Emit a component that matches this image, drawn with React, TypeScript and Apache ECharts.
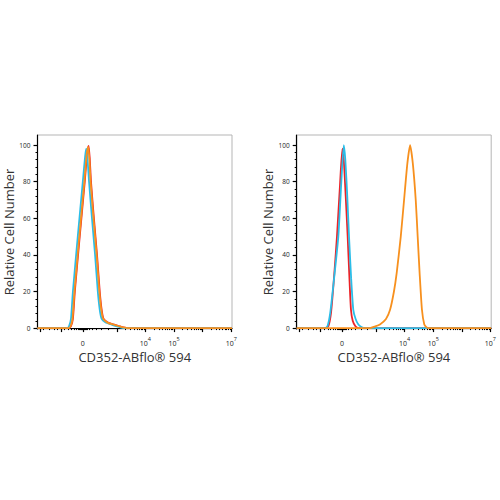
import React, { useEffect, useRef } from "react";
import * as echarts from "echarts";

// Display scale (biexponential channel units 0..1000)
const X_MIN = 0;
const X_MAX = 1000;
const Y_MIN = -0.5;
const Y_MAX = 105.5;

const xLabelPositions = [233, 555, 702, 996];
const xLabelTexts = ["0", "10{s|4}", "10{s|5}", "10{s|7}"];
const xMajorTicks = [13, 121, 233, 408, 555, 702, 849, 996];
const xMinorTicks = [
  30, 60, 85, 100, 140, 160, 175, 190, 200, 208, 214, 219, 223, 226, 229, 231,
  235, 237, 240, 244, 249, 256, 266, 280, 300, 330, 365,
  452, 478, 496, 511, 522, 532, 541, 548,
  599, 625, 643, 658, 669, 679, 688, 695,
  746, 772, 790, 805, 816, 826, 835, 842,
  893, 919, 937, 952, 963, 973, 982, 989,
];
const yLabelValues = [0, 20, 40, 60, 80, 100];
const yMinorTicks = [
  4, 8, 12, 16, 24, 28, 32, 36, 44, 48, 52, 56, 64, 68, 72, 76, 84, 88, 92, 96,
];

const xAxisTitle = "CD352-ABflo® 594";
const yAxisTitle = "Relative Cell Number";

// Left panel histograms
const leftRed: [number, number][] = [
  [0, 0], [162, 0], [172, 1], [182, 5], [192, 20], [217, 50], [243, 80],
  [255, 95], [263, 99.5], [269, 92], [275, 80], [290, 60], [306, 40],
  [320, 20], [330, 10], [340, 5], [362, 3], [391, 2], [422, 1], [442, 0.4],
  [468, 0], [1000, 0],
];
const leftCyan: [number, number][] = [
  [0, 0], [152, 0], [162, 1], [172, 5], [182, 20], [207, 50], [233, 80],
  [245, 94], [251, 98], [258, 91], [265, 80], [280, 60], [296, 40], [310, 20],
  [320, 10], [330, 5], [350, 3], [378, 2], [405, 1], [428, 0.3], [450, 0],
  [1000, 0],
];
const leftOrange: [number, number][] = [
  [0, 0], [160, 0], [170, 1], [180, 5], [190, 20], [215, 50], [241, 80],
  [253, 95], [261, 99], [267, 92], [273, 80], [288, 60], [304, 40], [318, 20],
  [328, 10], [338, 5], [360, 3], [389, 2], [420, 1], [440, 0.4], [466, 0],
  [1000, 0],
];

// Right panel histograms
const rightRed: [number, number][] = [
  [0, 0], [150, 0], [163, 1], [176, 8], [190, 25], [207, 50], [222, 77],
  [235, 98], [242, 92], [252, 72], [262, 50], [272, 25], [279, 10], [288, 4],
  [302, 1], [317, 0], [1000, 0],
];
const rightCyan: [number, number][] = [
  [0, 0], [145, 0], [158, 1], [172, 8], [190, 25], [214, 50], [229, 79],
  [242, 100], [250, 92], [260, 72], [269, 50], [280, 27], [291, 10], [303, 5],
  [317, 2], [335, 0.5], [351, 0], [1000, 0],
];
const rightOrange: [number, number][] = [
  [0, 0], [377, 0], [400, 0.8], [428, 2], [459, 5], [480, 10], [500, 20],
  [514, 30], [535, 50], [552, 70], [569, 90], [583, 100], [597, 90],
  [612, 70], [622, 50], [632, 30], [644, 10], [656, 2], [668, 0.4], [677, 0],
  [1000, 0],
];

const RED = "#ec2227";
const CYAN = "#2bbde8";
const ORANGE = "#f7901e";
const FONT = "Open Sans";

const gridLefts = [37.5, 296.7];

function makeX(gridIndex: number) {
  return [
    {
      type: "value",
      gridIndex,
      min: X_MIN,
      max: X_MAX,
      position: "bottom",
      name: xAxisTitle,
      nameLocation: "middle",
      nameGap: 21,
      nameTextStyle: { fontSize: 13, color: "#333", fontFamily: FONT },
      axisLine: { show: true, lineStyle: { color: "#000", width: 1.2 } },
      axisTick: {
        show: true,
        customValues: xMajorTicks,
        length: 4,
        lineStyle: { color: "#000", width: 1.2 },
      },
      splitLine: { show: false },
      axisLabel: {
        customValues: xLabelPositions,
        margin: 7,
        fontSize: 7,
        lineHeight: 14,
        color: "#222",
        fontFamily: FONT,
        formatter: (v: number) => {
          const i = xLabelPositions.findIndex((p) => Math.abs(p - v) < 0.5);
          return i >= 0 ? xLabelTexts[i] : "";
        },
        rich: {
          s: { fontSize: 5.5, verticalAlign: "top", color: "#222", fontFamily: FONT },
        },
      },
    },
    {
      type: "value",
      gridIndex,
      min: X_MIN,
      max: X_MAX,
      position: "bottom",
      axisLine: { show: false },
      axisTick: {
        show: true,
        customValues: xMinorTicks,
        length: 2,
        lineStyle: { color: "#000", width: 1 },
      },
      axisLabel: { show: false },
      splitLine: { show: false },
    },
  ];
}

function makeY(gridIndex: number) {
  return [
    {
      type: "value",
      gridIndex,
      min: Y_MIN,
      max: Y_MAX,
      position: "left",
      name: yAxisTitle,
      nameLocation: "middle",
      nameGap: 18,
      nameTextStyle: { fontSize: 13, color: "#333", fontFamily: FONT },
      axisLine: { show: true, lineStyle: { color: "#000", width: 1.2 } },
      axisTick: {
        show: true,
        customValues: yLabelValues,
        length: 4,
        lineStyle: { color: "#000", width: 1.2 },
      },
      axisLabel: {
        customValues: yLabelValues,
        margin: 7,
        fontSize: 6.5,
        color: "#222",
        fontFamily: FONT,
      },
      splitLine: { show: false },
    },
    {
      type: "value",
      gridIndex,
      min: Y_MIN,
      max: Y_MAX,
      position: "left",
      axisLine: { show: false },
      axisTick: {
        show: true,
        customValues: yMinorTicks,
        length: 2,
        lineStyle: { color: "#000", width: 1 },
      },
      axisLabel: { show: false },
      splitLine: { show: false },
    },
  ];
}

function line(data: [number, number][], color: string, axisIndex: number, z: number) {
  return {
    type: "line",
    xAxisIndex: axisIndex,
    yAxisIndex: axisIndex,
    data,
    showSymbol: false,
    smooth: 0.2,
    z,
    lineStyle: { color, width: 1.8 },
    itemStyle: { color },
  };
}

export default function App() {
  const ref = useRef<HTMLDivElement>(null);
  useEffect(() => {
    if (!ref.current) return;
    const chart = echarts.init(ref.current, undefined, { renderer: "svg" });
    chart.setOption({
      animation: false,
      backgroundColor: "#ffffff",
      grid: gridLefts.map((left) => ({
        left,
        top: 135,
        width: 194.5,
        height: 194,
        show: true,
        borderColor: "#b5b5b5",
        borderWidth: 1,
        backgroundColor: "#ffffff",
      })),
      xAxis: [...makeX(0), ...makeX(1)],
      yAxis: [...makeY(0), ...makeY(1)],
      series: [
        line(leftRed, RED, 0, 2),
        line(leftCyan, CYAN, 0, 3),
        line(leftOrange, ORANGE, 0, 4),
        line(rightRed, RED, 2, 2),
        line(rightCyan, CYAN, 2, 3),
        line(rightOrange, ORANGE, 2, 4),
      ],
    });
    return () => chart.dispose();
  }, []);
  return (
    <div
      ref={ref}
      style={{ position: "fixed", left: 0, top: 0, width: 500, height: 500, background: "#fff" }}
    />
  );
}
